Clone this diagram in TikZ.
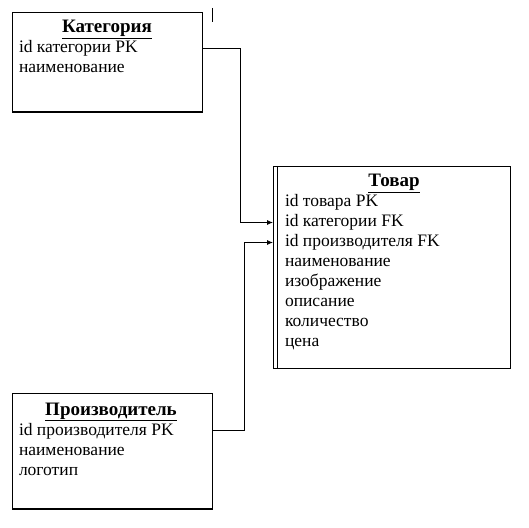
\documentclass[tikz,border=0pt]{standalone}
\usepackage{fontspec}
\setmainfont{Liberation Serif}
\usepackage{tikz}
\usetikzlibrary{arrows,arrows.meta,positioning}
\tikzset{
    %Define standard arrow tip
    >={Latex[length=6pt,width=5pt]},
    %Define style for entity boxes
    entity/.style={
           rectangle,
           draw=black, line width=0.9pt,
           anchor=north west,
           inner sep=0pt},
    %Define style for titles and fields
    titel/.style={
           font=\fontsize{19}{22}\selectfont\bfseries,
           anchor=base,
           inner sep=0pt},
    feld/.style={
           font=\fontsize{17.5}{20}\selectfont,
           anchor=north west,
           text height=13pt, text depth=4pt,
           inner sep=0pt, outer sep=0pt},
    % Define arrow style
    pil/.style={
           ->,
           line width=0.8pt}
}
\begin{document}
\begin{tikzpicture}[x=1pt,y=1pt,node distance=3pt]
\useasboundingbox (0,0) rectangle (529,527);

 %boxes
\node[entity, minimum width=190pt, minimum height=99pt] (kat) at (12,515) {};
\node[entity, minimum width=237pt, minimum height=202pt] (tov) at (273,361) {};
\node[entity, minimum width=200pt, minimum height=115pt] (pro) at (12,134) {};
\draw[line width=1.6pt] (kat.south west) -- (kat.south east);
\draw[line width=1.6pt] (pro.south west) -- (pro.south east);
\draw[line width=0.9pt] ([xshift=4pt]tov.north west) -- ([xshift=4pt]tov.south west);

 %Kategoria
\node[titel] (katT) at (107,494) {\underline{Категория}};
\node[feld, anchor=base west] (kpk) at (19,474) {id категории PK};
\node[feld, below=of kpk.south west, anchor=north west] (kname) {наименование};

 %Tovar
\node[titel] (tovT) at (394,340) {\underline{Товар}};
\node[feld, anchor=base west] (tpk) at (285,320) {id товара PK};
\node[feld, below=of tpk.south west, anchor=north west] (tfk1) {id категории FK};
\node[feld, below=of tfk1.south west, anchor=north west] (tfk2) {id производителя FK};
\node[feld, below=of tfk2.south west, anchor=north west] (tname) {наименование};
\node[feld, below=of tname.south west, anchor=north west] (tbild) {изображение};
\node[feld, below=of tbild.south west, anchor=north west] (tbesch) {описание};
\node[feld, below=of tbesch.south west, anchor=north west] (tmenge) {количество};
\node[feld, below=of tmenge.south west, anchor=north west] (tpreis) {цена};

 %Proizvoditel
\node[titel] (proT) at (111,112) {\underline{Производитель}};
\node[feld, anchor=base west] (ppk) at (19,92) {id производителя PK};
\node[feld, below=of ppk.south west, anchor=north west] (pname) {наименование};
\node[feld, below=of pname.south west, anchor=north west] (plogo) {логотип};

 %connectors
\draw[pil] (kat.east |- kpk) -- ++(37,0) |- (tov.west |- tfk1);
\draw[pil] (pro.east |- ppk) -- ++(31,0) |- (tov.west |- tfk2);

 %tick
\coordinate (s1) at (212,519);
\coordinate (s2) at (212,505);
\draw[line width=0.8pt] (s1) -- (s2);

\end{tikzpicture}
\end{document}
